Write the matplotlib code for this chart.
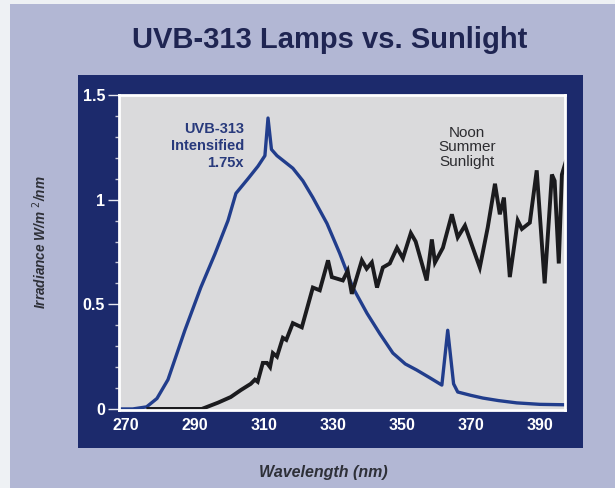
import matplotlib.pyplot as plt
from matplotlib.patches import Rectangle
from matplotlib.ticker import MultipleLocator

# UVB-313 lamp spectrum (intensified 1.75x)
uvb_nm = [268, 272, 276, 279, 282.2, 287.1, 291.7, 295.8, 299.6, 301.9, 305.4, 308.3,
          310.3, 311.2, 312.2, 313.8, 318.4, 321.3, 324.2, 328.3, 332.0, 335.8, 339.9,
          343.6, 347.4, 351, 354.3, 358, 361.6, 363.3, 365.0, 366.2, 370, 373.5, 378,
          383.3, 390, 397.2]
uvb_val = [0.0, 0.0, 0.01, 0.05, 0.14, 0.376, 0.58, 0.74, 0.90, 1.03, 1.10, 1.16,
           1.21, 1.39, 1.24, 1.21, 1.15, 1.09, 1.01, 0.886, 0.743, 0.58, 0.457,
           0.36, 0.267, 0.215, 0.186, 0.15, 0.114, 0.376, 0.12, 0.081, 0.065, 0.052, 0.04,
           0.029, 0.022, 0.02]

# Noon summer sunlight
sun_nm = [276.5, 292, 296.7, 300.4, 303.3, 306.2, 307.4, 308.2, 309.7, 310.9, 311.8, 312.6,
          313.8, 315.5, 316.5, 318.4, 321.0, 324.2, 326.2, 328.6, 329.7, 332.9, 334.3,
          335.5, 338.4, 339.8, 341.3, 342.8, 344.5, 346.5, 348.6, 350.3, 352.6, 354.0,
          357.2, 358.7, 359.6, 361.9, 364.5, 366.2, 368.3, 372.6, 374.9, 377.0, 378.4,
          379.6, 381.3, 383.6, 384.8, 387.1, 389.1, 391.4, 393.5, 394.3, 395.5, 396.4, 397.5]
sun_val = [0.0, 0.0, 0.03, 0.057, 0.09, 0.12, 0.14, 0.13, 0.22, 0.22, 0.20, 0.267,
           0.25, 0.34, 0.33, 0.41, 0.39, 0.58, 0.567, 0.71, 0.63, 0.614, 0.66,
           0.55, 0.71, 0.67, 0.70, 0.58, 0.676, 0.695, 0.77, 0.72, 0.84, 0.80,
           0.614, 0.81, 0.70, 0.77, 0.93, 0.82, 0.876, 0.676, 0.867, 1.076, 0.93,
           1.01, 0.63, 0.90, 0.86, 0.89, 1.14, 0.60, 1.12, 1.09, 0.695, 1.12, 1.18]

x_ticks = [270, 290, 310, 330, 350, 370, 390]
y_ticks = [0, 0.5, 1, 1.5]
y_labels = ['0', '0.5', '1', '1.5']

NAVY = '#1c2a6c'
LAVENDER = '#b2b7d4'
PLOTBG = '#dadadc'
narrow = ['Liberation Sans Narrow', 'Liberation Sans', 'DejaVu Sans']
sans = ['Liberation Sans', 'DejaVu Sans']

W, H = 615, 488
fig = plt.figure(figsize=(W / 100, H / 100), dpi=100)
fig.patch.set_facecolor('#eef1f4')

# lavender page and navy frame, drawn in pixel coords behind the axes
fig.patches.append(Rectangle((10 / W, 0), 1, 1 - 4 / H, transform=fig.transFigure,
                             facecolor=LAVENDER, edgecolor='none', zorder=-3))
fig.patches.append(Rectangle((78 / W, 1 - 448 / H), (583 - 78) / W, (448 - 75) / H,
                             transform=fig.transFigure, facecolor=NAVY,
                             edgecolor='none', zorder=-2))

ax = fig.add_axes([119 / W, 1 - 410 / H, (565 - 119) / W, (410 - 95) / H])
ax.set_facecolor(PLOTBG)

ax.plot(uvb_nm, uvb_val, color='#213d8c', lw=2.4, solid_joinstyle='round')
ax.plot(sun_nm, sun_val, color='#1b1b1e', lw=2.8, solid_joinstyle='miter')

ax.set_xlim(268, 397.3)
ax.set_ylim(-0.005, 1.5)

ax.set_xticks(x_ticks)
ax.set_yticks(y_ticks)
ax.set_yticklabels(y_labels)
ax.yaxis.set_minor_locator(MultipleLocator(0.1))
ax.tick_params(axis='x', length=0, pad=6, colors='white', labelsize=11.5)
ax.tick_params(axis='y', which='major', length=8, width=1, pad=2, colors='#e8e8f0',
               labelsize=11.5)
ax.tick_params(axis='y', which='minor', length=3, width=1, color='#c8c8d8')
for lab in ax.get_xticklabels() + ax.get_yticklabels():
    lab.set_family(narrow)
    lab.set_fontweight('bold')
    lab.set_color('white')

for s in ax.spines.values():
    s.set_color('white')
    s.set_linewidth(2)

ax.text(304.2, 1.257, 'UVB-313\nIntensified\n1.75x', ha='right', va='center',
        family=narrow, fontweight='bold', fontsize=10.5, color='#283a7c',
        linespacing=1.3)
ax.text(368.8, 1.25, 'Noon\nSummer\nSunlight', ha='center', va='center',
        family=sans, fontsize=11, color='#2c2c30', linespacing=1.05)

fig.text(330 / W, 1 - 40 / H, 'UVB-313 Lamps vs. Sunlight', ha='center', va='center',
         family=sans, fontweight='bold', fontsize=21, color='#1f2552')
fig.text(40 / W, 1 - 242 / H, 'Irradiance W/m $^2$/nm', rotation=90, ha='center',
         va='center', family=narrow, fontweight='bold', style='italic', fontsize=9.8,
         color='#2e3038')
fig.text(323 / W, 1 - 473 / H, 'Wavelength (nm)', ha='center', va='center',
         family=narrow, fontweight='bold', style='italic', fontsize=11.5,
         color='#2e3038')

fig.savefig('out.png', dpi=100, facecolor=fig.get_facecolor())
